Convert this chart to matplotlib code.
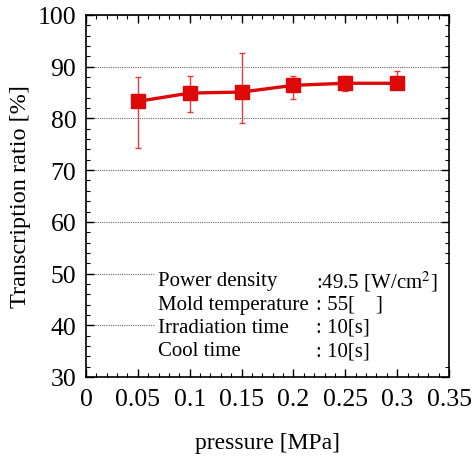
import numpy as np
import matplotlib.pyplot as plt
from matplotlib.ticker import MultipleLocator
from matplotlib.patches import Rectangle

pressure = [0.05, 0.10, 0.15, 0.20, 0.25, 0.30]
ratio = [83.3, 84.9, 85.1, 86.4, 86.8, 86.8]
err_low = [9.0, 3.6, 5.9, 2.6, 1.5, 1.0]
err_high = [4.7, 3.3, 7.5, 1.8, 1.4, 2.3]

labels = ["Power density", "Mold temperature", "Irradiation time", "Cool time"]
values = [":49.5 [W/cm$^2$]", ": 55[    ]", ": 10[s]", ": 10[s]"]

plt.rcParams['font.family'] = ['Liberation Serif', 'DejaVu Serif']
plt.rcParams['mathtext.fontset'] = 'stix'

fig = plt.figure(figsize=(4.73, 4.60), dpi=100)
ax = fig.add_axes([86/473, 1-378/460, 363/473, 362/460])

red = '#dd0808'
ax.errorbar(pressure, ratio, yerr=[err_low, err_high], color=red, lw=2.4,
            marker='s', ms=10, elinewidth=1.0, capsize=2.5, capthick=1.0,
            ecolor='#e43a3a', zorder=3)

ax.set_xlim(0, 0.35)
ax.set_ylim(30, 100)
ax.xaxis.set_minor_locator(MultipleLocator(0.01))
ax.yaxis.set_major_locator(MultipleLocator(10))
ax.yaxis.set_minor_locator(MultipleLocator(2))
ax.set_xticks(np.arange(0, 0.351, 0.05))
ax.set_xticklabels(["0", "0.05", "0.1", "0.15", "0.2", "0.25", "0.3", "0.35"])
ax.tick_params(which='both', direction='in', top=True, right=True, labelsize=18.5)
ax.tick_params(which='major', length=6, width=1)
ax.tick_params(which='minor', length=3, width=0.8)
ax.tick_params(axis='x', pad=8)
ax.tick_params(axis='y', pad=7)
for s in ax.spines.values():
    s.set_linewidth(1.2)

ax.yaxis.grid(True, which='major', ls=(0, (1, 1)), color='#666666', lw=0.8)

ax.set_xlabel("pressure [MPa]", fontsize=17, labelpad=16)
ax.set_ylabel("Transcription ratio [%]", fontsize=17.5, labelpad=5)

# white box behind the conditions text
ax.add_patch(Rectangle((0.19, 0.027), 0.81, 0.284, transform=ax.transAxes,
                       facecolor='white', edgecolor='none', zorder=2))
y0 = 48.6
for i in range(len(labels)):
    ax.text(0.0694, y0 - i * 4.5, labels[i], fontsize=15, va='center', zorder=4)
    ax.text(0.2215, y0 - i * 4.5, values[i], fontsize=15, va='center', zorder=4)

fig.savefig("out.png", dpi=100)
